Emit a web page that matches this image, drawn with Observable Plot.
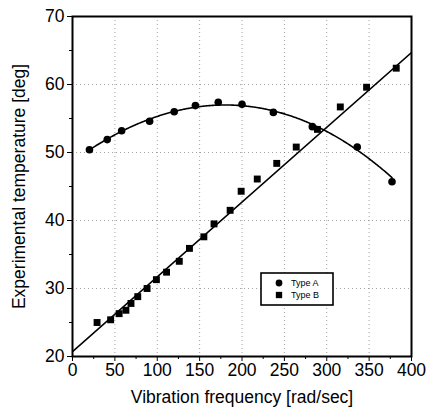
<!DOCTYPE html>
<html>
<head>
<meta charset="utf-8">
<script src="https://cdn.jsdelivr.net/npm/d3@7"></script>
<script src="https://cdn.jsdelivr.net/npm/@observablehq/plot@0.6"></script>
<style>
  html, body { margin: 0; padding: 0; background: #fff; }
  svg { font-family: "Liberation Sans", Arial, sans-serif; }
</style>
</head>
<body>
<div id="chart"></div>
<script>
// Type A (circles)
const freqA = [20, 41, 58, 91, 120, 145, 172, 200, 237, 283, 336, 377];
const tempA = [50.4, 51.9, 53.2, 54.6, 56.0, 56.9, 57.4, 57.1, 55.9, 53.8, 50.8, 45.7];
// Type B (squares)
const freqB = [29, 45, 55, 63, 69, 77, 88, 99, 111, 126, 138, 155, 167, 186, 199, 218, 241, 264, 289, 316, 347, 382];
const tempB = [25.0, 25.4, 26.3, 26.8, 27.8, 28.8, 30.0, 31.3, 32.4, 34.0, 35.9, 37.6, 39.5, 41.5, 44.3, 46.1, 48.4, 50.8, 53.4, 56.7, 59.6, 62.4];
// fitted curves
const fitAx = [20, 60, 100, 140, 175, 210, 250, 290, 330, 355, 377];   // Type A polynomial fit
const fitAy = [50.4, 53.2, 55.25, 56.65, 57.2, 56.7, 55.4, 53.5, 51.1, 49.1, 45.9];
const fitBx = [0, 400];                                                 // Type B straight-line fit
const fitBy = [20.7, 64.7];
const legendLabels = ["Type A", "Type B"];
const xTicks = [0, 50, 100, 150, 200, 250, 300, 350, 400];
const yTicks = [20, 30, 40, 50, 60, 70];

const A = freqA.map((x, i) => ({x, y: tempA[i]}));
const B = freqB.map((x, i) => ({x, y: tempB[i]}));
const lineB = fitBx.map((x, i) => ({x, y: fitBy[i]}));

// smooth the read Type A fit points with a least-squares cubic (x scaled to [0,1])
function polyFit(xs, ys, deg) {
  const n = deg + 1, M = Array.from({length: n}, () => new Array(n + 1).fill(0));
  xs.forEach((x0, idx) => {
    const x = x0 / 400;
    for (let i = 0; i < n; i++) {
      for (let j = 0; j < n; j++) M[i][j] += x ** (i + j);
      M[i][n] += ys[idx] * x ** i;
    }
  });
  for (let i = 0; i < n; i++) for (let j = i + 1; j < n; j++) {
    const f = M[j][i] / M[i][i]; for (let k = i; k <= n; k++) M[j][k] -= f * M[i][k];
  }
  const c = new Array(n).fill(0);
  for (let i = n - 1; i >= 0; i--) { let v = M[i][n]; for (let k = i + 1; k < n; k++) v -= M[i][k] * c[k]; c[i] = v / M[i][i]; }
  return x => c.reduce((s, ci, i) => s + ci * (x / 400) ** i, 0);
}
const fA = polyFit(fitAx, fitAy, 3);
const curveA = d3.range(fitAx[0], fitAx[fitAx.length - 1] + 0.1, 1).map(x => ({x, y: fA(x)}));

const minorX = d3.range(25, 400, 50);
const minorY = d3.range(25, 70, 10);

const plot = Plot.plot({
  width: 428, height: 409,
  marginLeft: 72, marginRight: 17, marginTop: 16, marginBottom: 53,
  style: {fontFamily: "Liberation Sans, Arial, sans-serif", fontSize: "15px", color: "#000", background: "#fff"},
  x: {domain: [0, 400]},
  y: {domain: [20, 70]},
  marks: [
    Plot.gridX(xTicks.slice(1, -1), {stroke: "#555", strokeOpacity: 0.55, strokeDasharray: "1,3"}),
    Plot.gridY(yTicks.slice(1, -1), {stroke: "#555", strokeOpacity: 0.55, strokeDasharray: "1,3"}),
    Plot.axisX(xTicks, {tickSize: 5, tickPadding: 2, fontSize: 15, label: "Vibration frequency [rad/sec]", labelAnchor: "center", labelArrow: "none", labelOffset: 46}),
    Plot.axisX(minorX, {tickSize: 3, text: null, label: null}),
    Plot.axisY(yTicks, {tickSize: 5, tickPadding: 3, fontSize: 15, label: "Experimental temperature [deg]", labelAnchor: "center", labelArrow: "none", labelOffset: 60}),
    Plot.axisY(minorY, {tickSize: 3, text: null, label: null}),
    Plot.frame({stroke: "#000", strokeWidth: 2}),
    Plot.line(lineB, {x: "x", y: "y", stroke: "#000", strokeWidth: 1.6, clip: true}),
    Plot.line(curveA, {x: "x", y: "y", stroke: "#000", strokeWidth: 1.6}),
    Plot.dot(A, {x: "x", y: "y", r: 3.8, fill: "#000", symbol: "circle"}),
    Plot.dot(B, {x: "x", y: "y", r: 3.9, fill: "#000", symbol: "square"})
  ]
});

// axis label font sizes
d3.select(plot).selectAll("[aria-label$='label'] text").style("font-size", "17.5px");

// legend box (drawn inside the SVG, in pixel layout)
const g = d3.select(plot).append("g").attr("class", "legend").attr("text-anchor", "start");
g.append("rect").attr("x", 261).attr("y", 273).attr("width", 72).attr("height", 32)
  .attr("fill", "#fff").attr("stroke", "#000").attr("stroke-width", 1.6);
const sym = [d3.symbolCircle, d3.symbolSquare];
legendLabels.forEach((lab, i) => {
  const y = 283 + i * 12;
  g.append("path").attr("d", d3.symbol(sym[i], i === 0 ? 36 : 40)()).attr("transform", `translate(279,${y})`).attr("fill", "#000");
  g.append("text").attr("x", 291).attr("y", y).attr("dy", "0.35em").attr("text-anchor", "start")
    .attr("font-size", 9).attr("fill", "#000").text(lab);
});

document.getElementById("chart").appendChild(plot);
</script>
</body>
</html>
